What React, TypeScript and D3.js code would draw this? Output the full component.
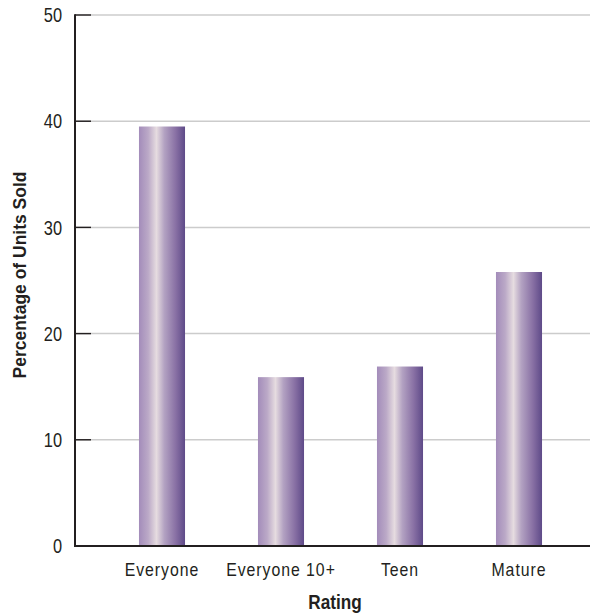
import React from "react";
import * as d3 from "d3";

const categories = ["Everyone", "Everyone 10+", "Teen", "Mature"];
const values = [39.5, 15.9, 16.9, 25.8];
const yTicks = [0, 10, 20, 30, 40, 50];

const W = 590;
const H = 616;
const FONT = "'Liberation Sans', Arial, sans-serif";
const INK = "#231f20";

export default function App() {
  const y = d3.scaleLinear().domain([0, 50]).range([546, 15]);
  const x = d3.scaleBand<string>().domain(categories).range([102.5, 578.5]).paddingInner(0.613).paddingOuter(0.3065);
  const axisX = 75;
  return (
    <svg width={W} height={H} style={{ position: "absolute", left: 0, top: 0, background: "#fff" }}>
      <defs>
        <linearGradient id="barGrad" x1="0" x2="1" y1="0" y2="0">
          <stop offset="0%" stopColor="#a38cba" />
          <stop offset="20%" stopColor="#bba9c7" />
          <stop offset="38%" stopColor="#e6dce0" />
          <stop offset="55%" stopColor="#b3a2c2" />
          <stop offset="80%" stopColor="#8870a4" />
          <stop offset="100%" stopColor="#5e4a88" />
        </linearGradient>
      </defs>
      {yTicks.filter((t) => t > 0).map((t) => (
        <line key={"g" + t} x1={91} x2={W} y1={y(t)} y2={y(t)} stroke="#cccccc" strokeWidth={1.5} />
      ))}
      {yTicks.filter((t) => t > 0).map((t) => (
        <line key={"t" + t} x1={axisX} x2={91} y1={y(t)} y2={y(t)} stroke={INK} strokeWidth={1.5} />
      ))}
      {categories.map((c, i) => (
        <rect key={c} x={x(c)} width={x.bandwidth()} y={y(values[i])} height={y(0) - y(values[i])} fill="url(#barGrad)" />
      ))}
      <line x1={axisX} x2={axisX} y1={y(50) - 0.75} y2={y(0) + 1} stroke={INK} strokeWidth={2} />
      <line x1={axisX - 1} x2={W} y1={y(0)} y2={y(0)} stroke={INK} strokeWidth={2} />
      {yTicks.map((t) => (
        <text key={"l" + t} transform={`translate(62, ${y(t)}) scale(0.82, 1)`} dy="0.36em" textAnchor="end" fontFamily={FONT} fontSize={20} fill={INK}>
          {t}
        </text>
      ))}
      {categories.map((c) => (
        <text key={"c" + c} transform={`translate(${(x(c) as number) + x.bandwidth() / 2}, 576) scale(0.88, 1)`} textAnchor="middle" fontFamily={FONT} fontSize={18} letterSpacing={1.1} fill={INK}>
          {c}
        </text>
      ))}
      <text transform={`translate(335, 609) scale(0.86, 1)`} textAnchor="middle" fontFamily={FONT} fontSize={20} fontWeight="bold" fill={INK}>
        Rating
      </text>
      <text transform={`translate(26, 275) rotate(-90) scale(0.92, 1)`} textAnchor="middle" fontFamily={FONT} fontSize={19} fontWeight="bold" fill={INK}>
        Percentage of Units Sold
      </text>
    </svg>
  );
}
